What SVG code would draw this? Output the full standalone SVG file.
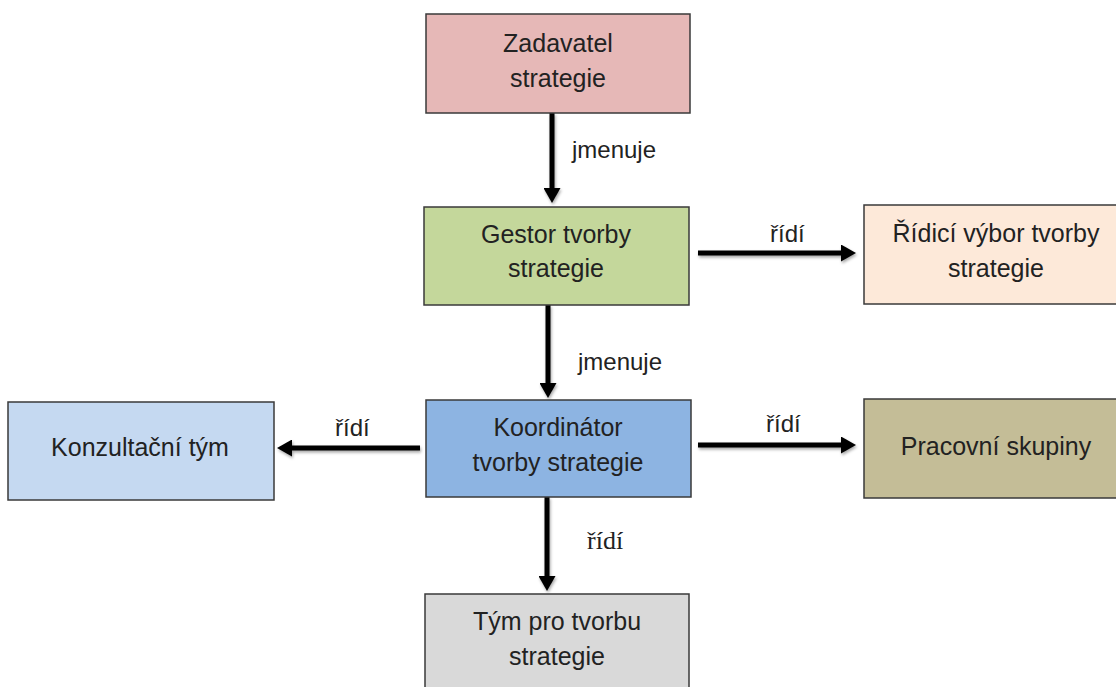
<svg xmlns="http://www.w3.org/2000/svg" width="1116" height="687" viewBox="0 0 1116 687">
<style>
.box{stroke:#3a3a3a;stroke-width:1.5}
.t{font-family:"Liberation Sans",Arial,sans-serif;font-size:25px;fill:#222;text-anchor:middle}
.lbl{font-family:"Liberation Sans",Arial,sans-serif;font-size:24px;fill:#222}
.lbls{font-family:"Liberation Serif","Times New Roman",serif;font-size:26px;fill:#222}
.c{stroke:#000;stroke-width:5;fill:none;marker-end:url(#ah)}
</style>
<defs>
<marker id="ah" viewBox="0 0 15 17" refX="4" refY="8.5" markerWidth="15" markerHeight="17" markerUnits="userSpaceOnUse" orient="auto">
<path d="M0,0 L15,8.5 L0,17 Z" fill="#000"/>
</marker>
<filter id="sh" filterUnits="userSpaceOnUse" x="0" y="0" width="1116" height="687">
<feDropShadow dx="1" dy="2" stdDeviation="1.5" flood-color="#000" flood-opacity="0.35"/>
</filter>
</defs>
<rect width="1116" height="687" fill="#fff"/>
<g id="connectors">
<g filter="url(#sh)">
<path class="c" d="M552,113 V192"/>
<path class="c" d="M548,305 V387"/>
<path class="c" d="M698,253 H845"/>
<path class="c" d="M698,445 H845"/>
<path class="c" d="M420,448 H288"/>
<path class="c" d="M547,497 V580"/>
</g>
<text class="lbl" x="572" y="158">jmenuje</text>
<text class="lbl" x="578" y="370">jmenuje</text>
<text class="lbl" x="770" y="242">řídí</text>
<text class="lbl" x="766" y="432">řídí</text>
<text class="lbl" x="335" y="436">řídí</text>
<text class="lbls" x="587" y="549">řídí</text>
</g>
<g id="zadavatel">
<rect class="box" x="426" y="14" width="264" height="99" fill="#e6b8b7"/>
<text class="t" x="558" y="52">Zadavatel</text>
<text class="t" x="558" y="87">strategie</text>
</g>
<g id="gestor">
<rect class="box" x="424" y="207" width="265" height="98" fill="#c4d79b"/>
<text class="t" x="556" y="243">Gestor tvorby</text>
<text class="t" x="556" y="277">strategie</text>
</g>
<g id="ridici">
<rect class="box" x="864" y="205" width="260" height="99" fill="#fde9d9"/>
<text class="t" x="996" y="242">Řídicí výbor tvorby</text>
<text class="t" x="996" y="277">strategie</text>
</g>
<g id="koordinator">
<rect class="box" x="426" y="400" width="265" height="97" fill="#8db4e2"/>
<text class="t" x="558" y="436">Koordinátor</text>
<text class="t" x="558" y="471">tvorby strategie</text>
</g>
<g id="konzultacni">
<rect class="box" x="8" y="402" width="266" height="98" fill="#c5d9f1"/>
<text class="t" x="140" y="456">Konzultační tým</text>
</g>
<g id="pracovni">
<rect class="box" x="864" y="399" width="260" height="99" fill="#c4bd97"/>
<text class="t" x="996" y="455">Pracovní skupiny</text>
</g>
<g id="tym">
<rect class="box" x="425" y="594" width="264" height="110" fill="#d9d9d9"/>
<text class="t" x="557" y="630">Tým pro tvorbu</text>
<text class="t" x="557" y="665">strategie</text>
</g>
</svg>
